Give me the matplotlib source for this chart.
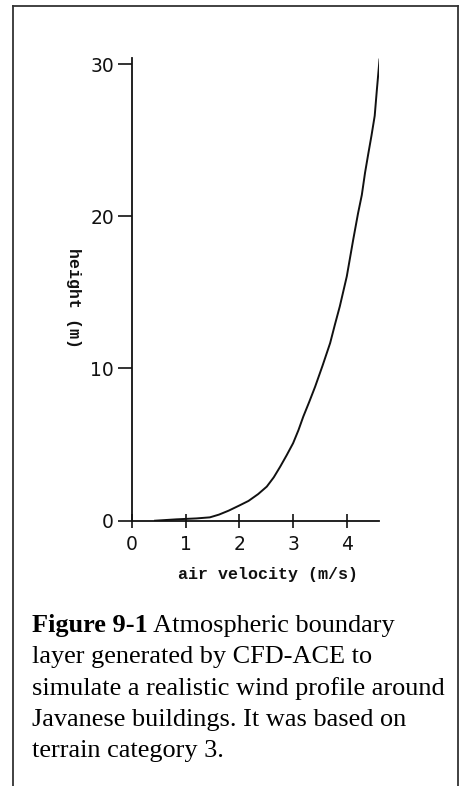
import matplotlib
matplotlib.use("Agg")
import matplotlib.pyplot as plt
from matplotlib.lines import Line2D

# Wind profile: air velocity (m/s) against height above ground (m)
velocity = [0.43, 0.83, 1.20, 1.45, 1.62, 1.80, 2.00, 2.17, 2.35, 2.51, 2.64,
            2.76, 2.88, 3.00, 3.10, 3.19, 3.30, 3.41, 3.55, 3.69, 3.78, 3.87,
            4.00, 4.12, 4.21, 4.28, 4.34, 4.40, 4.46, 4.52, 4.56, 4.61]
height = [0.0, 0.09, 0.15, 0.22, 0.40, 0.66, 1.00, 1.30, 1.75, 2.24, 2.85,
          3.55, 4.30, 5.09, 5.95, 6.84, 7.80, 8.80, 10.2, 11.67, 12.9, 14.08,
          16.05, 18.47, 20.2, 21.4, 22.86, 24.1, 25.3, 26.6, 28.3, 30.3]

x_ticks = [0, 1, 2, 3, 4]
y_ticks = [0, 10, 20, 30]

caption_bold = "Figure 9-1"
caption_first = " Atmospheric boundary"
caption_rest = [
    "layer generated by CFD-ACE to",
    "simulate a realistic wind profile around",
    "Javanese buildings. It was based on",
    "terrain category 3.",
]

W, H = 461, 786
fig = plt.figure(figsize=(W / 100, H / 100), dpi=100)
fig.patch.set_facecolor("white")

ink = "#111111"

# Frame around the figure (open at the bottom)
for xs, ys in [([13, 13], [6, 786]), ([458, 458], [6, 786]), ([13, 458], [6, 6])]:
    fig.add_artist(Line2D([x / W for x in xs], [1 - y / H for y in ys],
                          transform=fig.transFigure, color="#333333", lw=1.3))

ax = fig.add_axes([132 / W, 1 - 520.7 / H, (379 - 132) / W, (520.7 - 58) / H])
ax.plot(velocity, height, color=ink, lw=1.4, solid_joinstyle="round")
ax.set_xlim(0, 4.6)
ax.set_ylim(0, 30.4)
for s in ("top", "right"):
    ax.spines[s].set_visible(False)
for s in ("left", "bottom"):
    ax.spines[s].set_color(ink)
    ax.spines[s].set_linewidth(1.3)
ax.set_xticks(x_ticks)
ax.set_yticks(y_ticks)
ax.tick_params(axis="x", direction="inout", length=10, width=1.2, color=ink,
               pad=5, labelsize=13.5, labelcolor=ink)
ax.tick_params(axis="y", direction="out", length=10, width=1.2, color=ink,
               pad=3, labelsize=13.5, labelcolor=ink)
for lab in ax.get_xticklabels() + ax.get_yticklabels():
    lab.set_family("DejaVu Sans")

fig.text(268 / W, 1 - 575 / H, "air velocity (m/s)", family="Liberation Mono",
         fontsize=12, fontweight="bold", color=ink, ha="center", va="center")
fig.text(73 / W, 1 - 298 / H, "height (m)", family="Liberation Mono",
         fontsize=12, fontweight="bold", color=ink, ha="center", va="center",
         rotation=270)

# Caption below the plot, first words in bold
x0 = 32 / W
fs = 18.9
base = [632, 663, 695, 726, 757]
bold = fig.text(x0, 1 - base[0] / H, caption_bold, family="Liberation Serif",
                fontsize=fs, fontweight="bold", color="black", va="baseline")
renderer = fig.canvas.get_renderer()
bw = bold.get_window_extent(renderer).width / W
fig.text(x0 + bw, 1 - base[0] / H, caption_first, family="Liberation Serif",
         fontsize=fs, color="black", va="baseline")
for line, yb in zip(caption_rest, base[1:]):
    fig.text(x0, 1 - yb / H, line, family="Liberation Serif", fontsize=fs,
             color="black", va="baseline")

fig.savefig("out.png", dpi=100, facecolor="white")
